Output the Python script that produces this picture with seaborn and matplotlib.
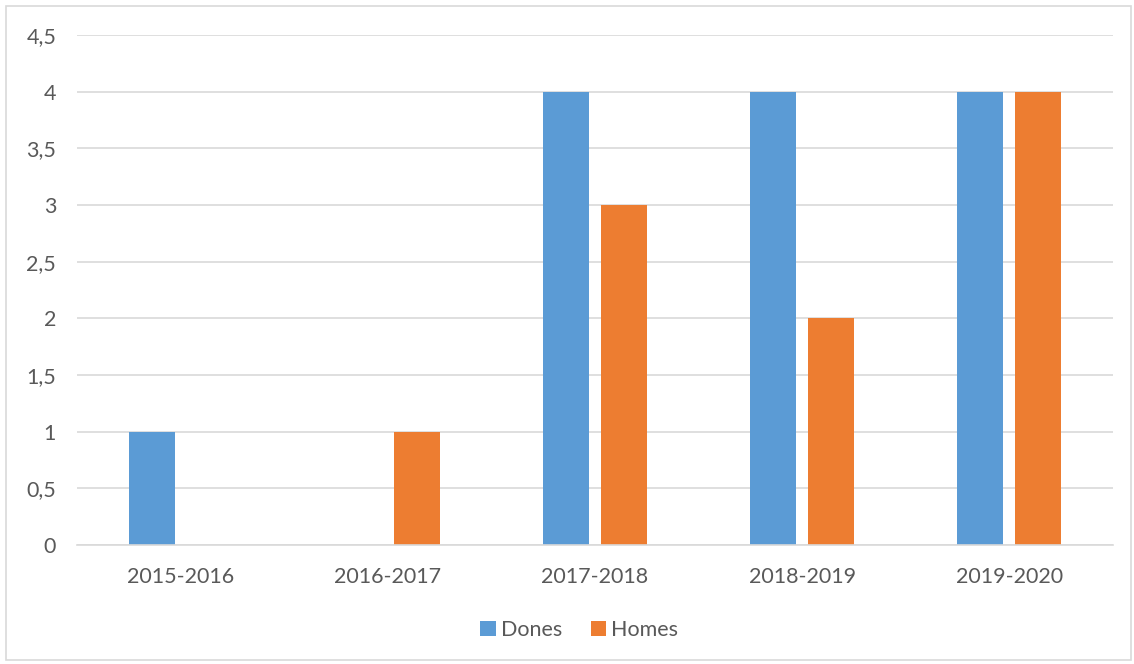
import matplotlib
matplotlib.use("Agg")

import matplotlib.pyplot as plt
import pandas as pd
import seaborn as sns
from matplotlib.patches import Rectangle
from matplotlib.ticker import FuncFormatter, MultipleLocator

years = ["2015-2016", "2016-2017", "2017-2018", "2018-2019", "2019-2020"]
dones = [1, 0, 4, 4, 4]
homes = [0, 1, 3, 2, 4]
series = ["Dones", "Homes"]
colors = ["#5B9BD5", "#ED7D31"]

df = pd.DataFrame({
    "year": years * 2,
    "value": dones + homes,
    "group": [series[0]] * len(years) + [series[1]] * len(years),
})

sns.set_style("white")
plt.rcParams["font.family"] = ["Lato", "DejaVu Sans"]
text_color = "#595959"
grid_color = "#D9D9D9"

fig = plt.figure(figsize=(11.34, 6.64), dpi=100)
ax = fig.add_axes([0.0679, 0.1792, 0.9136, 0.7681])

sns.barplot(data=df, x="year", y="value", hue="group", palette=colors,
            saturation=1, width=0.56, gap=0.207, linewidth=0, ax=ax, legend=True)

ax.set_ylim(0, 4.5)
ax.set_xlim(-0.5, len(years) - 0.5)
ax.yaxis.set_major_locator(MultipleLocator(0.5))
ax.yaxis.set_major_formatter(FuncFormatter(lambda v, _: f"{v:g}".replace(".", ",")))
ax.grid(axis="y", color=grid_color, lw=1.2)
ax.set_axisbelow(True)
for side in ["top", "right", "left"]:
    ax.spines[side].set_visible(False)
ax.spines["bottom"].set_color(grid_color)
ax.spines["bottom"].set_linewidth(1.2)
ax.tick_params(axis="both", length=0, labelsize=15.5, colors=text_color)
ax.tick_params(axis="y", pad=15)
ax.tick_params(axis="x", pad=16)
ax.set_xlabel("")
ax.set_ylabel("")

leg = ax.legend(loc="center", bbox_to_anchor=(0.511, 0.051), bbox_transform=fig.transFigure,
                ncol=2, frameon=False, fontsize=15.5, handlelength=0.72, handleheight=0.72,
                handletextpad=0.25, columnspacing=1.3)
for t in leg.get_texts():
    t.set_color(text_color)

fig.patches.append(Rectangle((6 / 1134, 4 / 664), 1125 / 1134, 654 / 664,
                             transform=fig.transFigure, fill=False,
                             edgecolor=grid_color, lw=1.2))

fig.savefig("out.png", dpi=100)
plt.close(fig)
